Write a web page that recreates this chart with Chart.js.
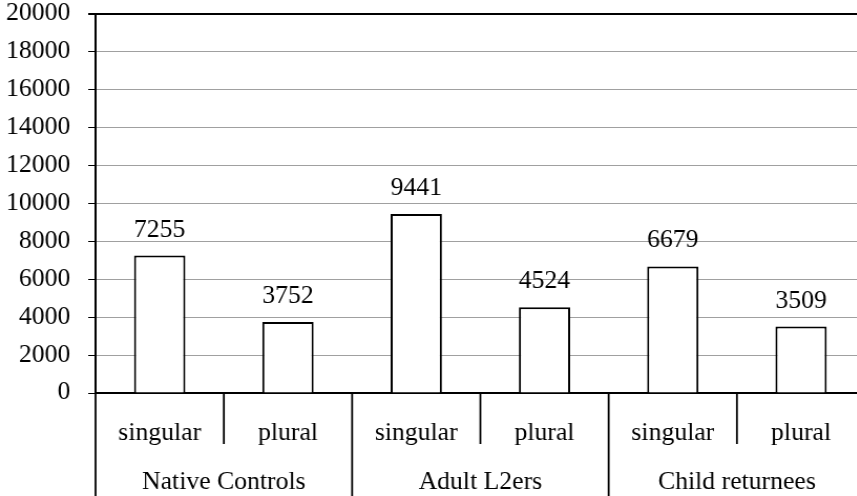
<!DOCTYPE html>
<html lang="en">

<head>
    <meta charset="UTF-8">
    <meta name="viewport" content="width=device-width, initial-scale=1.0">
    <title>Singular / plural</title>
    <script src="https://cdn.jsdelivr.net/npm/chart.js"></script>
    <style>
        html, body { margin: 0; padding: 0; overflow: hidden; background: white; }
        #caixa_grafico {
            width: 824px;
            height: 496px;
            transform: scaleX(1.05);
            transform-origin: 0 0;
        }
    </style>
</head>

<body onload="plotarGrafico()">

    <div id="caixa_grafico">
        <canvas id="myChartCanvas"></canvas>
    </div>

</body>

</html>

<script>

    // dados do grafico
    const grupos = ['Native Controls', 'Adult L2ers', 'Child returnees'];
    const subcategorias = ['singular', 'plural', 'singular', 'plural', 'singular', 'plural'];
    const valores = [7255, 3752, 9441, 4524, 6679, 3509];
    const yMin = 0;
    const yMax = 20000;
    const yPasso = 2000;

    const fonte = "'Liberation Serif', 'Times New Roman', serif";
    const tamanhoFonte = 24.5;

    // rotulos com o valor acima de cada barra
    const pluginValores = {
        id: 'valores',
        afterDatasetsDraw(chart) {
            const ctx = chart.ctx;
            const meta = chart.getDatasetMeta(0);
            ctx.save();
            ctx.font = `${tamanhoFonte}px ${fonte}`;
            ctx.fillStyle = 'black';
            ctx.textAlign = 'center';
            ctx.textBaseline = 'alphabetic';
            meta.data.forEach(function (barra, i) {
                ctx.fillText(String(valores[i]), barra.x, barra.y - 19);
            });
            ctx.restore();
        }
    };

    // eixo x em dois niveis (subcategoria + grupo)
    const pluginEixoX = {
        id: 'eixoX',
        afterDraw(chart) {
            const ctx = chart.ctx;
            const x = chart.scales.x;
            const base = chart.chartArea.bottom;
            const n = subcategorias.length;
            const porGrupo = n / grupos.length;

            function limite(i) {
                if (i <= 0) return x.left;
                if (i >= n) return x.right;
                return (x.getPixelForValue(i - 1) + x.getPixelForValue(i)) / 2;
            }

            ctx.save();
            ctx.strokeStyle = 'black';
            ctx.lineWidth = 1.8;
            for (let i = 0; i <= n; i++) {
                const px = limite(i);
                const fim = (i % porGrupo == 0) ? chart.height : base + 51;
                ctx.beginPath();
                ctx.moveTo(px, base);
                ctx.lineTo(px, fim);
                ctx.stroke();
            }

            ctx.font = `${tamanhoFonte}px ${fonte}`;
            ctx.fillStyle = 'black';
            ctx.textAlign = 'center';
            ctx.textBaseline = 'alphabetic';
            for (let i = 0; i < n; i++) {
                ctx.fillText(subcategorias[i], x.getPixelForValue(i), base + 47);
            }
            for (let g = 0; g < grupos.length; g++) {
                const centro = (limite(g * porGrupo) + limite((g + 1) * porGrupo)) / 2;
                ctx.fillText(grupos[g], centro, base + 96);
            }
            ctx.restore();
        }
    };

    function plotarGrafico() {

        const dados = {
            labels: subcategorias,
            datasets: [{
                label: '',
                data: valores,
                backgroundColor: 'white',
                borderColor: 'black',
                borderWidth: 2,
                barPercentage: 0.4,
                categoryPercentage: 1
            }]
        };

        const config = {
            type: 'bar',
            data: dados,
            options: {
                responsive: true,
                maintainAspectRatio: false,
                animation: false,
                layout: { padding: 0 },
                plugins: {
                    legend: { display: false },
                    tooltip: { enabled: false }
                },
                scales: {
                    x: {
                        ticks: { display: false },
                        grid: { display: false },
                        border: { display: true, color: 'black', width: 2 },
                        afterFit: function (scale) { scale.height = 103; }
                    },
                    y: {
                        min: yMin,
                        max: yMax,
                        ticks: {
                            stepSize: yPasso,
                            color: 'black',
                            padding: 17,
                            font: { family: fonte, size: tamanhoFonte },
                            callback: function (valor) { return String(valor); }
                        },
                        grid: {
                            color: function (c) { return c.tick && c.tick.value == yMax ? 'black' : '#a0a0a0'; },
                            lineWidth: function (c) { return c.tick && c.tick.value == yMax ? 2 : 1; },
                            tickColor: 'black',
                            tickLength: 7
                        },
                        border: { display: true, color: 'black', width: 2 },
                        afterFit: function (scale) {
                            scale.width = 91;
                            scale.paddingTop = 14;
                            scale.paddingBottom = 0;
                        }
                    }
                }
            },
            plugins: [pluginValores, pluginEixoX]
        };

        let myChart = new Chart(document.getElementById('myChartCanvas'), config);
        console.log(myChart.chartArea);
    }

</script>
